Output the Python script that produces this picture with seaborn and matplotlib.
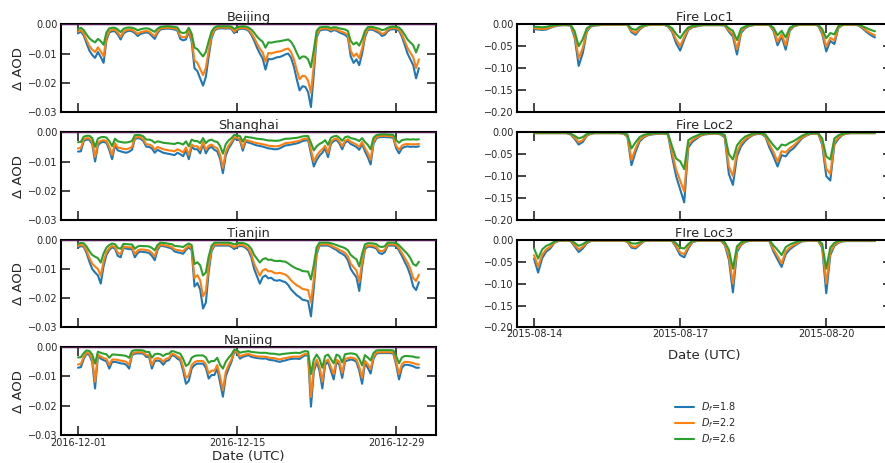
import numpy as np
import pandas as pd
import matplotlib
matplotlib.use("Agg")
import matplotlib.pyplot as plt
import matplotlib.dates as mdates
import seaborn as sns

# --- data: city panels, 6-hourly, Delta AOD in units of -1e-4 ---
city_times = pd.date_range("2016-12-01", periods=121, freq="6h")

bj_18 = [31, 25, 38, 65, 90, 105, 115, 95, 112, 132, 55, 28, 24, 24, 35, 52,
         32, 25, 22, 24, 30, 40, 33, 30, 28, 30, 40, 50, 30, 18, 16, 15,
         15, 16, 18, 22, 50, 55, 52, 25, 60, 150, 160, 185, 210, 180, 110, 48,
         22, 15, 14, 14, 15, 14, 16, 30, 20, 16, 15, 17, 22, 36, 56, 80,
         100, 117, 155, 118, 120, 117, 113, 112, 108, 103, 100, 115,
         145, 188, 226, 212, 214, 232, 283, 170, 45, 22, 19, 18, 19, 25, 20, 22,
         28, 32, 36, 45, 110, 132, 120, 140, 100, 45, 20, 18, 20, 25, 30, 40,
         36, 24, 18, 17, 18, 22, 42, 70, 100, 120, 140, 185, 150]
bj_22 = [25, 20, 31, 54, 75, 87, 95, 79, 93, 110, 46, 23, 19, 19, 29, 43,
         26, 20, 18, 19, 25, 33, 27, 25, 23, 25, 33, 41, 25, 14, 13, 12,
         12, 13, 14, 18, 41, 45, 43, 20, 49, 124, 132, 153, 174, 149, 91, 39,
         18, 12, 11, 11, 12, 11, 13, 25, 16, 13, 12, 14, 18, 30, 46, 66,
         83, 97, 128, 98, 100, 97, 94, 93, 90, 85, 83, 95,
         120, 156, 188, 176, 178, 193, 235, 141, 37, 18, 15, 14, 15, 20, 16, 18,
         23, 26, 30, 37, 91, 110, 100, 116, 83, 37, 16, 14, 16, 20, 25, 33,
         30, 19, 14, 13, 14, 18, 34, 57, 81, 97, 113, 150, 120]
bj_26 = [17, 12, 20, 35, 48, 56, 62, 50, 58, 70, 28, 14, 12, 12, 18, 27,
         16, 12, 11, 12, 15, 21, 17, 15, 14, 15, 21, 26, 15, 9, 8, 7,
         7, 8, 9, 11, 27, 30, 28, 12, 32, 80, 85, 98, 110, 95, 58, 25,
         11, 7, 7, 7, 7, 7, 8, 16, 10, 8, 7, 8, 11, 18, 29, 42,
         52, 60, 80, 62, 63, 61, 59, 58, 56, 54, 52, 60,
         76, 98, 118, 110, 111, 120, 147, 88, 23, 11, 9, 9, 9, 13, 10, 11,
         14, 16, 18, 23, 57, 69, 62, 73, 52, 23, 10, 9, 10, 13, 15, 20,
         18, 12, 9, 8, 9, 11, 21, 36, 52, 62, 72, 96, 70]

sh_18 = [66, 65, 30, 25, 26, 40, 100, 45, 35, 33, 36, 60, 92, 45, 62, 65,
         68, 70, 66, 60, 23, 20, 22, 30, 49, 50, 55, 70, 60, 65, 70, 72,
         74, 76, 78, 70, 75, 82, 62, 92, 50, 58, 58, 72, 40, 72, 55, 50,
         60, 65, 90, 140, 80, 55, 40, 22, 24, 28, 63, 32, 35, 38, 42, 45,
         47, 49, 52, 55, 56, 58, 58, 55, 50, 45, 44, 42, 40, 38, 35, 30,
         28, 27, 72, 117, 95, 80, 70, 55, 85, 40, 30, 26, 38, 58, 35, 30,
         40, 45, 50, 60, 40, 65, 85, 110, 40, 21, 17, 16, 16, 17, 17, 20,
         55, 72, 55, 50, 48, 50, 49, 50, 48]
sh_22 = [55, 54, 25, 20, 21, 33, 84, 37, 29, 27, 30, 50, 78, 37, 52, 54,
         57, 58, 55, 50, 18, 16, 17, 24, 41, 42, 46, 59, 50, 54, 58, 60,
         62, 63, 65, 58, 63, 69, 52, 78, 42, 48, 48, 60, 33, 60, 46, 42,
         50, 54, 76, 122, 67, 46, 33, 17, 19, 23, 53, 26, 29, 32, 35, 37,
         39, 41, 43, 46, 47, 48, 48, 46, 42, 37, 36, 35, 33, 31, 29, 24,
         22, 21, 60, 100, 80, 67, 58, 46, 71, 33, 24, 21, 31, 48, 29, 24,
         33, 37, 42, 50, 33, 54, 71, 94, 33, 17, 13, 12, 12, 13, 13, 16,
         46, 60, 46, 41, 40, 41, 41, 41, 40]
sh_26 = [34, 33, 15, 12, 12, 20, 50, 22, 17, 16, 18, 30, 47, 22, 31, 33,
         35, 35, 33, 30, 10, 9, 10, 14, 25, 25, 28, 36, 31, 33, 36, 37,
         38, 39, 40, 36, 38, 42, 31, 48, 25, 30, 30, 37, 20, 37, 28, 25,
         31, 33, 47, 73, 41, 28, 20, 9, 10, 13, 32, 15, 17, 18, 20, 22,
         23, 24, 26, 28, 28, 29, 29, 28, 25, 22, 22, 21, 20, 19, 17, 14,
         13, 13, 36, 62, 48, 40, 35, 27, 43, 19, 14, 12, 19, 29, 17, 14,
         20, 22, 25, 30, 20, 33, 43, 58, 19, 10, 8, 7, 7, 8, 8, 9,
         27, 36, 27, 25, 24, 25, 24, 25, 24]

tj_18 = [26, 22, 24, 45, 75, 100, 112, 122, 150, 90, 52, 35, 26, 30, 55, 60,
         28, 30, 32, 32, 60, 45, 40, 42, 43, 45, 55, 70, 35, 20, 22, 24,
         27, 30, 40, 43, 45, 48, 35, 26, 35, 160, 148, 170, 235, 215, 110, 40,
         20, 20, 20, 20, 20, 20, 24, 32, 24, 22, 22, 28, 37, 60, 100, 125,
         150, 128, 122, 132, 130, 138, 140, 138, 142, 145, 155, 170,
         180, 190, 196, 205, 207, 210, 262, 165, 50, 20, 20, 20, 20, 24, 30, 35,
         43, 48, 55, 70, 100, 115, 128, 175, 94, 32, 24, 24, 26, 30, 45, 49,
         42, 20, 20, 20, 22, 37, 55, 75, 95, 122, 160, 172, 145]
tj_22 = [21, 18, 20, 37, 62, 82, 92, 100, 123, 74, 43, 29, 21, 25, 45, 49,
         23, 25, 26, 26, 49, 37, 33, 34, 35, 37, 45, 57, 29, 16, 18, 20,
         22, 25, 33, 35, 37, 39, 29, 21, 29, 131, 121, 139, 193, 176, 90, 33,
         16, 16, 16, 16, 16, 16, 20, 26, 20, 18, 18, 23, 30, 49, 82, 103,
         123, 105, 100, 108, 107, 113, 115, 113, 116, 119, 127, 139,
         148, 156, 161, 168, 170, 172, 215, 135, 41, 16, 16, 16, 16, 20, 25, 29,
         35, 39, 45, 57, 82, 94, 105, 144, 77, 26, 20, 20, 21, 25, 37, 40,
         34, 16, 16, 16, 18, 30, 45, 62, 78, 100, 131, 141, 119]
tj_26 = [14, 11, 12, 23, 39, 52, 58, 63, 78, 47, 27, 18, 13, 15, 28, 31,
         14, 15, 16, 16, 31, 23, 21, 22, 22, 23, 28, 36, 18, 10, 11, 12,
         14, 15, 21, 22, 23, 25, 18, 13, 18, 83, 77, 88, 122, 112, 57, 21,
         10, 10, 10, 10, 10, 10, 12, 16, 12, 11, 11, 14, 19, 31, 52, 65,
         78, 67, 63, 69, 68, 72, 73, 72, 74, 75, 81, 88,
         94, 99, 102, 107, 108, 109, 136, 86, 26, 10, 10, 10, 10, 12, 15, 18,
         22, 25, 29, 36, 52, 60, 67, 91, 49, 16, 12, 12, 13, 15, 23, 25,
         22, 10, 10, 10, 11, 19, 29, 39, 49, 63, 83, 89, 75]

nj_18 = [70, 68, 40, 22, 27, 50, 141, 30, 39, 44, 48, 73, 50, 50, 52, 55,
         56, 60, 73, 27, 22, 21, 21, 22, 33, 33, 73, 48, 45, 48, 60, 47,
         44, 27, 30, 39, 45, 80, 125, 115, 73, 61, 56, 56, 56, 70, 107, 95,
         95, 73, 120, 169, 100, 73, 50, 16, 20, 39, 33, 30, 27, 33, 35, 37,
         38, 39, 38, 42, 44, 45, 48, 50, 47, 45, 42, 40, 39, 39, 40, 33,
         27, 30, 203, 84, 50, 80, 141, 60, 50, 80, 110, 50, 60, 105, 48, 45,
         42, 44, 50, 80, 125, 55, 70, 90, 40, 22, 20, 20, 20, 20, 20, 22,
         60, 110, 70, 60, 60, 62, 65, 70, 70]
nj_22 = [59, 57, 33, 18, 22, 42, 118, 25, 32, 37, 40, 61, 42, 42, 43, 46,
         47, 50, 61, 22, 18, 17, 17, 18, 27, 27, 61, 40, 37, 40, 50, 39,
         37, 22, 25, 32, 37, 67, 105, 96, 61, 51, 47, 47, 47, 58, 90, 80,
         80, 61, 100, 147, 84, 61, 42, 13, 16, 32, 27, 25, 22, 27, 29, 31,
         32, 32, 32, 35, 37, 37, 40, 42, 39, 37, 35, 33, 32, 32, 33, 27,
         22, 25, 170, 70, 42, 67, 118, 50, 42, 67, 92, 42, 50, 88, 40, 37,
         35, 37, 42, 67, 105, 46, 58, 75, 33, 18, 17, 17, 17, 17, 17, 18,
         50, 92, 58, 50, 50, 52, 54, 58, 59]
nj_26 = [35, 34, 20, 11, 13, 25, 56, 15, 19, 22, 24, 36, 25, 25, 26, 27,
         28, 30, 36, 13, 10, 10, 10, 11, 16, 16, 36, 24, 22, 24, 30, 23,
         22, 13, 15, 19, 22, 40, 64, 57, 36, 30, 28, 28, 28, 35, 53, 47,
         47, 36, 60, 73, 50, 36, 25, 8, 10, 19, 16, 15, 13, 16, 17, 18,
         19, 19, 19, 21, 22, 22, 24, 25, 23, 22, 21, 20, 19, 19, 20, 16,
         13, 15, 92, 42, 25, 40, 70, 30, 25, 40, 55, 25, 30, 52, 24, 22,
         21, 22, 25, 40, 62, 27, 35, 45, 20, 11, 10, 10, 10, 10, 10, 11,
         30, 55, 35, 30, 30, 31, 32, 35, 35]

# --- data: fire panels, 2-hourly, Delta AOD in units of -1e-3 ---
fire_times = pd.date_range("2015-08-14", periods=85, freq="2h")

f1_18 = [11, 12, 13, 12, 8, 5, 3, 2, 2, 3, 30, 95,
         66, 17, 5, 3, 2, 1, 1, 1, 1, 1, 1, 1,
         18, 24, 12, 5, 2, 1, 1, 1, 1, 5, 17, 43,
         60, 35, 13, 7, 5, 3, 2, 2, 2, 2, 2, 3,
         17, 28, 69, 20, 9, 4, 2, 1, 1, 1, 2, 15,
         48, 28, 58, 15, 5, 2, 1, 1, 1, 1, 3, 22,
         62, 38, 45, 8, 2, 1, 1, 1, 3, 10, 18, 25, 30]
f1_22 = [9, 10, 11, 10, 7, 4, 2, 2, 2, 2, 25, 78,
         54, 14, 4, 2, 2, 1, 1, 1, 1, 1, 1, 1,
         15, 20, 10, 4, 2, 1, 1, 1, 1, 4, 14, 35,
         50, 29, 11, 6, 4, 2, 2, 2, 2, 2, 2, 2,
         14, 23, 57, 16, 7, 3, 2, 1, 1, 1, 2, 12,
         40, 23, 48, 12, 4, 2, 1, 1, 1, 1, 2, 18,
         51, 31, 37, 7, 2, 1, 1, 1, 2, 8, 15, 21, 25]
f1_26 = [6, 6, 7, 6, 4, 2, 1, 1, 1, 1, 16, 50,
         34, 9, 3, 1, 1, 0, 0, 0, 0, 0, 0, 0,
         10, 13, 6, 3, 1, 0, 0, 0, 0, 3, 9, 22,
         32, 18, 7, 4, 3, 1, 1, 1, 1, 1, 1, 1,
         9, 15, 36, 10, 5, 2, 1, 0, 0, 0, 1, 8,
         25, 15, 30, 8, 3, 1, 0, 0, 0, 0, 1, 11,
         32, 20, 23, 4, 1, 0, 0, 0, 1, 5, 9, 13, 16]

f2_18 = [2, 2, 2, 2, 2, 2, 2, 2, 2, 5, 15, 28,
         22, 8, 3, 2, 2, 2, 2, 2, 2, 2, 3, 10,
         75, 45, 21, 12, 7, 5, 4, 3, 3, 5, 55, 100,
         130, 160, 35, 22, 15, 8, 5, 4, 3, 3, 5, 12,
         95, 120, 55, 32, 20, 12, 6, 4, 4, 10, 35, 55,
         78, 52, 55, 43, 36, 25, 14, 8, 4, 3, 3, 28,
         100, 110, 28, 15, 6, 3, 2, 2, 2, 2, 2, 2, 2]
f2_22 = [2, 2, 2, 2, 2, 2, 2, 2, 2, 4, 12, 23,
         18, 7, 3, 2, 2, 2, 2, 2, 2, 2, 3, 8,
         63, 37, 17, 10, 6, 4, 3, 3, 3, 4, 45, 85,
         110, 135, 28, 18, 12, 7, 4, 3, 3, 3, 4, 10,
         78, 100, 45, 26, 16, 10, 5, 3, 3, 8, 28, 45,
         67, 43, 46, 36, 30, 21, 12, 7, 3, 3, 3, 23,
         83, 95, 23, 12, 5, 3, 2, 2, 2, 2, 2, 2, 2]
f2_26 = [1, 1, 1, 1, 1, 1, 1, 1, 1, 3, 8, 14,
         11, 4, 2, 1, 1, 1, 1, 1, 1, 1, 2, 5,
         37, 23, 11, 6, 4, 3, 2, 2, 2, 3, 32, 60,
         66, 84, 18, 12, 8, 4, 3, 2, 2, 2, 3, 6,
         50, 62, 30, 18, 10, 6, 3, 2, 2, 5, 18, 30,
         40, 28, 30, 24, 20, 14, 8, 4, 2, 2, 2, 14,
         55, 62, 14, 7, 3, 2, 1, 1, 1, 1, 1, 1, 1]

f3_18 = [43, 75, 42, 27, 20, 7, 3, 2, 2, 3, 15, 28,
         20, 8, 3, 2, 2, 2, 2, 2, 2, 2, 2, 5,
         18, 20, 12, 4, 2, 2, 2, 2, 2, 2, 3, 17,
         35, 40, 20, 6, 3, 2, 2, 2, 2, 2, 2, 12,
         45, 120, 28, 12, 5, 3, 2, 2, 2, 2, 3, 27,
         45, 62, 33, 22, 15, 9, 4, 3, 2, 2, 3, 18,
         122, 35, 14, 7, 4, 3, 3, 3, 3, 3, 3, 3, 3]
f3_22 = [35, 62, 34, 22, 16, 6, 2, 2, 2, 2, 12, 22,
         16, 6, 2, 2, 2, 2, 2, 2, 2, 2, 2, 4,
         15, 17, 10, 3, 2, 2, 2, 2, 2, 2, 2, 14,
         29, 33, 16, 5, 2, 2, 2, 2, 2, 2, 2, 10,
         37, 100, 23, 10, 4, 2, 2, 2, 2, 2, 2, 22,
         37, 54, 27, 18, 12, 7, 3, 2, 2, 2, 2, 15,
         100, 29, 11, 6, 3, 2, 2, 2, 2, 2, 2, 2, 2]
f3_26 = [20, 43, 22, 14, 10, 4, 1, 1, 1, 1, 7, 14,
         10, 4, 1, 1, 1, 1, 1, 1, 1, 1, 1, 2,
         8, 9, 6, 2, 1, 1, 1, 1, 1, 1, 1, 8,
         18, 20, 10, 3, 1, 1, 1, 1, 1, 1, 1, 6,
         23, 66, 15, 6, 3, 1, 1, 1, 1, 1, 1, 13,
         23, 35, 17, 11, 7, 4, 2, 1, 1, 1, 1, 9,
         66, 18, 7, 3, 2, 1, 1, 1, 1, 1, 1, 1, 1]

df_labels = [r"$D_f$=1.8", r"$D_f$=2.2", r"$D_f$=2.6"]
colors = ["#1f77b4", "#ff7f0e", "#2ca02c"]

city_titles = ["Beijing", "Shanghai", "Tianjin", "Nanjing"]
city_data = [(bj_18, bj_22, bj_26), (sh_18, sh_22, sh_26),
             (tj_18, tj_22, tj_26), (nj_18, nj_22, nj_26)]
fire_titles = ["Fire Loc1", "Fire Loc2", "FIre Loc3"]
fire_data = [(f1_18, f1_22, f1_26), (f2_18, f2_22, f2_26), (f3_18, f3_22, f3_26)]

city_ticks = pd.to_datetime(["2016-12-01", "2016-12-15", "2016-12-29"])
fire_ticks = pd.to_datetime(["2015-08-14", "2015-08-17", "2015-08-20"])

sns.set_style("ticks")
plt.rcParams["font.family"] = ["DejaVu Sans"]
plt.rcParams["axes.linewidth"] = 1.5


def draw(ax, times, series, scale):
    n = len(times)
    df = pd.DataFrame({
        "time": np.tile(times, 3),
        "aod": np.concatenate([np.asarray(s, float) for s in series]) * scale,
        "Df": np.repeat(df_labels, n),
    })
    sns.lineplot(data=df, x="time", y="aod", hue="Df", hue_order=df_labels,
                 palette=colors, linewidth=1.5, ax=ax, legend=False)
    ax.tick_params(which="both", direction="in", top=True, right=True,
                   length=6.5, width=1.2, labelsize=7, pad=2.5)
    ax.xaxis.set_major_formatter(mdates.DateFormatter("%Y-%m-%d"))
    ax.set_xlabel("")
    ax.set_ylabel("")
    for sp in ax.spines.values():
        sp.set_color("black")
        sp.set_linewidth(1.5)


fig = plt.figure(figsize=(8.85, 4.63), dpi=100)
bottoms = [0.7581, 0.5248, 0.2927, 0.0605]
w, h = 0.4237, 0.1895

for i, (title, series) in enumerate(zip(city_titles, city_data)):
    ax = fig.add_axes([0.0689, bottoms[i], w, h])
    draw(ax, city_times, series, -1e-4)
    ax.axhline(0, color="#4a1a4a", linewidth=1.0, zorder=3)
    ax.set_ylim(-0.03, 0.0)
    ax.set_yticks([-0.03, -0.02, -0.01, 0.0])
    ax.set_xticks(city_ticks)
    ax.set_title(title, fontsize=9.3, pad=2)
    ax.set_ylabel("Δ AOD", fontsize=9.5, labelpad=2)
    if i < 3:
        ax.tick_params(labelbottom=False)
    else:
        ax.set_xlabel("Date (UTC)", fontsize=9.5, labelpad=1)

for i, (title, series) in enumerate(zip(fire_titles, fire_data)):
    ax = fig.add_axes([0.5842, bottoms[i], w, h])
    draw(ax, fire_times, series, -1e-3)
    ax.set_ylim(-0.20, 0.0)
    ax.set_yticks([-0.20, -0.15, -0.10, -0.05, 0.0])
    ax.set_xticks(fire_ticks)
    ax.set_title(title, fontsize=9.3, pad=2)
    if i < 2:
        ax.tick_params(labelbottom=False)
    else:
        ax.tick_params(axis="x", pad=1)
        ax.set_xlabel("Date (UTC)", fontsize=9.5, labelpad=7)

handles = [plt.Line2D([], [], color=c, linewidth=1.5) for c in colors]
fig.legend(handles, df_labels, loc="center", bbox_to_anchor=(0.797, 0.086),
           frameon=False, fontsize=7, handlelength=2.0, handletextpad=0.7,
           labelspacing=0.25)

fig.savefig("out.png", dpi=100)
